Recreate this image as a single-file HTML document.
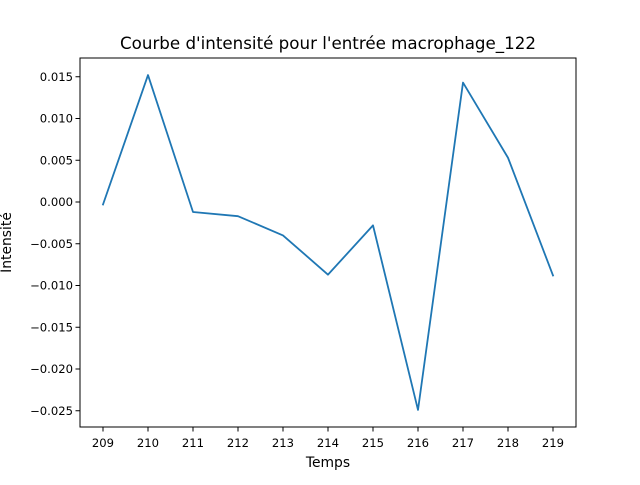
<!DOCTYPE html>
<html>
<head>
<meta charset="utf-8">
<style>
  html,body{margin:0;padding:0;background:#fff;}
  svg text{font-family:"DejaVu Sans","Liberation Sans",sans-serif;fill:#000;}
</style>
</head>
<body>
<svg id="chart" width="640" height="480" viewBox="0 0 640 480" xmlns="http://www.w3.org/2000/svg">
  <rect x="0" y="0" width="640" height="480" fill="#fff"/>
  <text x="328" y="49" font-size="16.7" text-anchor="middle">Courbe d'intensité pour l'entrée macrophage_122</text>
  <g id="xticks"></g>
  <g id="yticks"></g>
  <path id="line" fill="none" stroke="#1f77b4" stroke-width="1.8" stroke-linejoin="round" stroke-linecap="square"/>
  <rect x="80" y="58" width="496" height="369" fill="none" stroke="#000" stroke-width="1"/>
  <text x="328" y="467" font-size="13.9" text-anchor="middle">Temps</text>
  <text x="0" y="0" font-size="13.9" text-anchor="middle" transform="translate(11,242.5) rotate(-90)">Intensité</text>
</svg>
<script>
const times = [209,210,211,212,213,214,215,216,217,218,219];
const intensity = [-0.0003,0.0152,-0.0012,-0.0017,-0.0040,-0.0087,-0.0028,-0.0249,0.0143,0.0053,-0.0088];
const yTickValues = [0.015,0.010,0.005,0.000,-0.005,-0.010,-0.015,-0.020,-0.025];
const yTickLabels = ["0.015","0.010","0.005","0.000","−0.005","−0.010","−0.015","−0.020","−0.025"];

const NS = "http://www.w3.org/2000/svg";
function xScale(t){ return 103 + (t - 209) * 45; }
function yScale(v){ return 202 - v * 8350; }

const xg = document.getElementById('xticks');
times.forEach(t => {
  const x = xScale(t);
  const l = document.createElementNS(NS,'line');
  
  
  l.setAttribute('x1',x); l.setAttribute('x2',x);
  l.setAttribute('y1',427); l.setAttribute('y2',431.5);
  l.setAttribute('stroke','#000'); l.setAttribute('stroke-width','1');
  xg.appendChild(l);
  const tx = document.createElementNS(NS,'text');
  
  
  tx.setAttribute('x',x); tx.setAttribute('y',447);
  tx.setAttribute('font-size','11.6'); tx.setAttribute('text-anchor','middle');
  tx.textContent = String(t);
  xg.appendChild(tx);
});

const yg = document.getElementById('yticks');
yTickValues.forEach((v,i) => {
  const y = yScale(v);
  const l = document.createElementNS(NS,'line');
  
  
  l.setAttribute('x1',75.5); l.setAttribute('x2',80);
  l.setAttribute('y1',y); l.setAttribute('y2',y);
  l.setAttribute('stroke','#000'); l.setAttribute('stroke-width','1');
  yg.appendChild(l);
  const tx = document.createElementNS(NS,'text');
  
  
  tx.setAttribute('x',73); tx.setAttribute('y',y+4.2);
  tx.setAttribute('font-size','11.6'); tx.setAttribute('text-anchor','end');
  tx.textContent = yTickLabels[i];
  yg.appendChild(tx);
});

const d = times.map((t,i) => (i ? 'L' : 'M') + xScale(t).toFixed(2) + ',' + yScale(intensity[i]).toFixed(2)).join(' ');
document.getElementById('line').setAttribute('d', d);
</script>
</body>
</html>
